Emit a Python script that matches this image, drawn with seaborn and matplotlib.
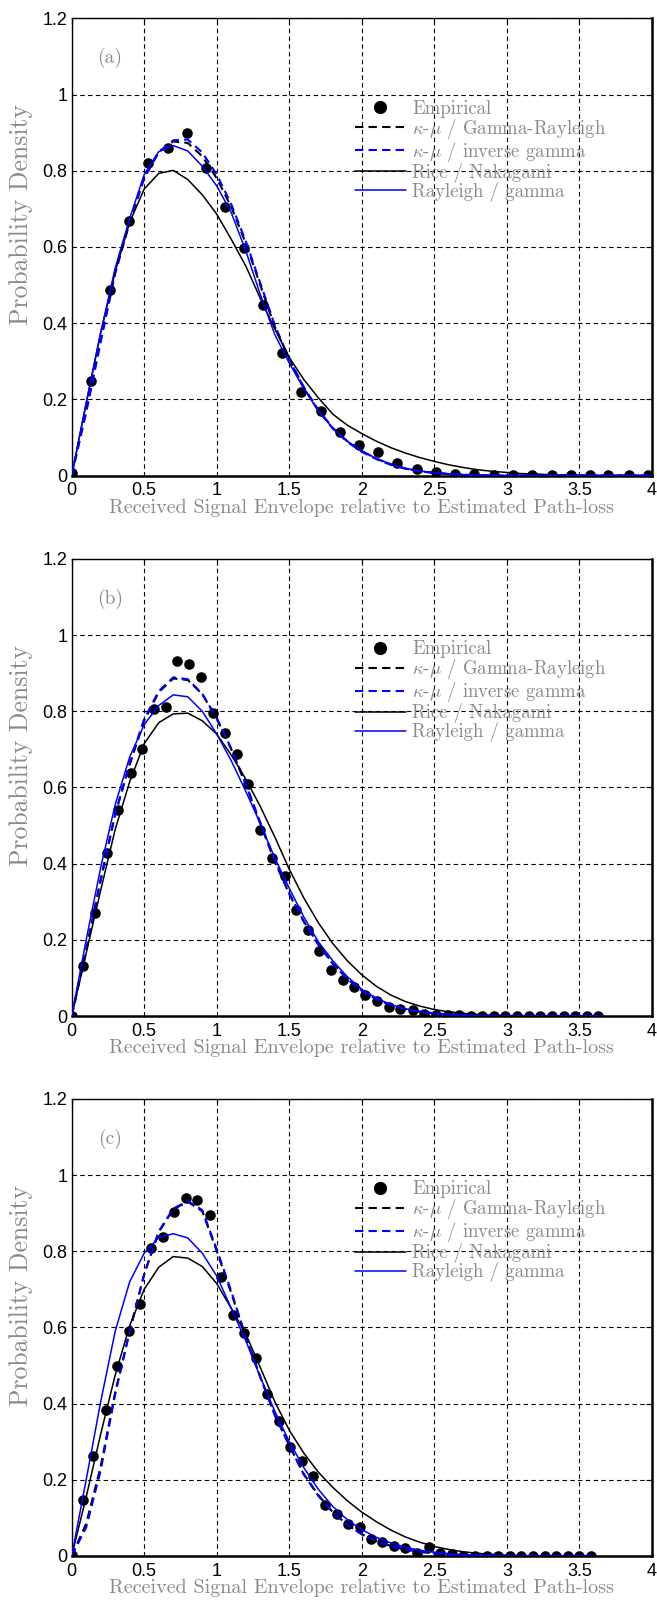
import matplotlib
matplotlib.use("Agg")
import matplotlib.pyplot as plt
import seaborn as sns
from matplotlib.lines import Line2D
from matplotlib.font_manager import FontProperties

# ---------------- data ----------------
panel_labels = ["(a)", "(b)", "(c)"]
legend_labels = ["Empirical", r"$\kappa$-$\mu$ / Gamma-Rayleigh", r"$\kappa$-$\mu$ / inverse gamma",
                 "Rice / Nakagami", "Rayleigh / gamma"]
xticks = [0, 0.5, 1, 1.5, 2, 2.5, 3, 3.5, 4]
xticklabels = ["0", "0.5", "1", "1.5", "2", "2.5", "3", "3.5", "4"]
yticks = [0, 0.2, 0.4, 0.6, 0.8, 1.0, 1.2]
yticklabels = ["0", "0.2", "0.4", "0.6", "0.8", "1", "1.2"]
xlabel = "Received Signal Envelope relative to Estimated Path-loss"
ylabel = "Probability Density"

# empirical points
emp_x_a = [0, 0.131, 0.263, 0.398, 0.525, 0.664, 0.794, 0.923, 1.06, 1.19, 1.32, 1.45, 1.58, 1.72, 1.85,
           1.98, 2.11, 2.245, 2.38, 2.51, 2.64, 2.77, 2.91, 3.04, 3.17, 3.31, 3.44, 3.57, 3.70, 3.84, 3.97]
emp_y_a = [0.007, 0.248, 0.487, 0.667, 0.82, 0.861, 0.90, 0.807, 0.705, 0.597, 0.447, 0.321, 0.218, 0.169, 0.115,
           0.08, 0.062, 0.032, 0.016, 0.009, 0.005, 0.003, 0.002, 0.001, 0.001, 0.001, 0.001, 0.001, 0.001, 0.001, 0.001]

emp_x_b = [0, 0.076, 0.161, 0.244, 0.322, 0.407, 0.485, 0.57, 0.651, 0.729, 0.811, 0.894, 0.977, 1.055, 1.138,
           1.218, 1.299, 1.382, 1.467, 1.545, 1.628, 1.706, 1.789, 1.869, 1.949, 2.025, 2.106, 2.188, 2.266, 2.35,
           2.43, 2.51, 2.594, 2.67, 2.75, 2.83, 2.91, 2.99, 3.07, 3.15, 3.23, 3.31, 3.39, 3.47, 3.55, 3.63]
emp_y_b = [0, 0.131, 0.271, 0.427, 0.54, 0.638, 0.70, 0.805, 0.812, 0.933, 0.925, 0.889, 0.795, 0.743, 0.688,
           0.61, 0.489, 0.415, 0.367, 0.277, 0.227, 0.17, 0.122, 0.094, 0.075, 0.055, 0.04, 0.024, 0.018, 0.015,
           0.005, 0.003, 0.002, 0.003, 0.001, 0.001, 0.001, 0.001, 0.001, 0.001, 0.001, 0.001, 0.001, 0.001, 0.001, 0.001]

emp_x_c = [0, 0.076, 0.149, 0.234, 0.315, 0.393, 0.471, 0.547, 0.628, 0.708, 0.789, 0.867, 0.954, 1.032, 1.11,
           1.189, 1.269, 1.349, 1.428, 1.508, 1.588, 1.666, 1.744, 1.827, 1.907, 1.984, 2.062, 2.142, 2.22, 2.30,
           2.38, 2.46, 2.54, 2.62, 2.70, 2.78, 2.86, 2.94, 3.02, 3.10, 3.18, 3.26, 3.34, 3.42, 3.50, 3.58]
emp_y_c = [0.003, 0.147, 0.262, 0.384, 0.498, 0.59, 0.662, 0.808, 0.837, 0.902, 0.939, 0.935, 0.895, 0.732, 0.633,
           0.586, 0.52, 0.424, 0.354, 0.287, 0.249, 0.211, 0.133, 0.11, 0.084, 0.075, 0.044, 0.036, 0.026, 0.021,
           0.009, 0.024, 0.007, 0.004, 0.001, 0.001, 0, 0, 0, 0, 0, 0, 0, 0, 0, 0]

# fitted curves
curve_x_a = [0, 0.1, 0.2, 0.3, 0.4, 0.5, 0.6, 0.7, 0.8, 0.9, 1.0, 1.1, 1.2, 1.3, 1.4, 1.5, 1.6, 1.7, 1.8, 1.9,
             2.0, 2.1, 2.2, 2.3, 2.4, 2.5, 2.6, 2.7, 2.8, 2.9, 3.0, 3.1, 3.2, 3.3, 3.4, 3.5, 3.6, 3.7, 3.8, 3.9, 4.0]
kg_a = [0, 0.175, 0.36, 0.535, 0.665, 0.785, 0.85, 0.877, 0.873, 0.838, 0.78, 0.705, 0.61, 0.5, 0.39, 0.305,
        0.232, 0.172, 0.125, 0.09, 0.064, 0.044, 0.029, 0.018, 0.011, 0.007, 0.004, 0.002, 0.001, 0,
        0, 0, 0, 0, 0, 0, 0, 0, 0, 0, 0]
ki_a = [0, 0.165, 0.35, 0.53, 0.665, 0.78, 0.848, 0.88, 0.882, 0.848, 0.79, 0.712, 0.615, 0.505, 0.395, 0.305,
        0.23, 0.17, 0.123, 0.088, 0.062, 0.043, 0.028, 0.018, 0.011, 0.007, 0.004, 0.002, 0.001, 0,
        0, 0, 0, 0, 0, 0, 0, 0, 0, 0, 0]
rn_a = [0, 0.19, 0.375, 0.535, 0.665, 0.752, 0.793, 0.801, 0.777, 0.737, 0.686, 0.62, 0.55, 0.465, 0.385, 0.31,
        0.252, 0.204, 0.161, 0.132, 0.11, 0.09, 0.073, 0.059, 0.047, 0.037, 0.028, 0.021, 0.015, 0.011,
        0.008, 0.005, 0.004, 0.002, 0.001, 0.001, 0, 0, 0, 0, 0]
rg_a = [0, 0.19, 0.375, 0.545, 0.675, 0.79, 0.85, 0.866, 0.852, 0.812, 0.76, 0.69, 0.59, 0.475, 0.37, 0.295,
        0.228, 0.17, 0.124, 0.09, 0.065, 0.045, 0.03, 0.019, 0.012, 0.007, 0.004, 0.002, 0.001, 0,
        0, 0, 0, 0, 0, 0, 0, 0, 0, 0, 0]

curve_x_b = [0, 0.1, 0.2, 0.3, 0.4, 0.5, 0.6, 0.7, 0.8, 0.9, 1.0, 1.1, 1.2, 1.3, 1.4, 1.5, 1.6, 1.7, 1.8, 1.9,
             2.0, 2.1, 2.2, 2.3, 2.4, 2.5, 2.6, 2.7, 2.8, 2.9, 3.0, 3.1, 3.2, 3.3, 3.4, 3.5, 3.6, 3.66]
kg_b = [0, 0.175, 0.36, 0.53, 0.66, 0.775, 0.85, 0.886, 0.882, 0.845, 0.78, 0.7, 0.607, 0.505, 0.405, 0.32,
        0.248, 0.188, 0.138, 0.098, 0.067, 0.045, 0.029, 0.018, 0.011, 0.007, 0.004, 0.002, 0.001, 0,
        0, 0, 0, 0, 0, 0, 0, 0]
ki_b = [0, 0.17, 0.355, 0.53, 0.665, 0.78, 0.853, 0.889, 0.884, 0.846, 0.782, 0.702, 0.61, 0.508, 0.41, 0.322,
        0.248, 0.187, 0.137, 0.097, 0.066, 0.044, 0.028, 0.018, 0.011, 0.007, 0.004, 0.002, 0.001, 0,
        0, 0, 0, 0, 0, 0, 0, 0]
rn_b = [0, 0.165, 0.33, 0.49, 0.615, 0.715, 0.77, 0.793, 0.795, 0.775, 0.74, 0.685, 0.622, 0.55, 0.47, 0.385,
        0.31, 0.245, 0.19, 0.145, 0.108, 0.078, 0.055, 0.038, 0.026, 0.017, 0.011, 0.007, 0.004, 0.002,
        0.001, 0.001, 0, 0, 0, 0, 0, 0]
rg_b = [0, 0.2, 0.39, 0.555, 0.68, 0.765, 0.815, 0.843, 0.838, 0.8, 0.74, 0.67, 0.59, 0.505, 0.415, 0.335,
        0.26, 0.195, 0.145, 0.103, 0.07, 0.047, 0.03, 0.019, 0.012, 0.007, 0.004, 0.002, 0.001, 0,
        0, 0, 0, 0, 0, 0, 0, 0]

curve_x_c = [0, 0.1, 0.2, 0.3, 0.4, 0.5, 0.6, 0.7, 0.8, 0.9, 1.0, 1.1, 1.2, 1.3, 1.4, 1.5, 1.6, 1.7, 1.8, 1.9,
             2.0, 2.1, 2.2, 2.3, 2.4, 2.5, 2.6, 2.7, 2.8, 2.9, 3.0, 3.1, 3.2, 3.3, 3.4, 3.5, 3.6]
kg_c = [0, 0.085, 0.235, 0.43, 0.59, 0.74, 0.85, 0.91, 0.93, 0.905, 0.8, 0.69, 0.575, 0.47, 0.37, 0.29,
        0.215, 0.16, 0.115, 0.082, 0.057, 0.039, 0.026, 0.017, 0.011, 0.007, 0.004, 0.002, 0.001, 0,
        0, 0, 0, 0, 0, 0, 0]
ki_c = [0, 0.075, 0.225, 0.425, 0.59, 0.74, 0.852, 0.912, 0.932, 0.908, 0.805, 0.695, 0.575, 0.47, 0.37, 0.29,
        0.214, 0.158, 0.114, 0.081, 0.057, 0.039, 0.026, 0.017, 0.011, 0.007, 0.004, 0.002, 0.001, 0,
        0, 0, 0, 0, 0, 0, 0]
rn_c = [0, 0.155, 0.32, 0.475, 0.605, 0.70, 0.758, 0.786, 0.782, 0.76, 0.715, 0.65, 0.583, 0.495, 0.405, 0.33,
        0.27, 0.22, 0.18, 0.145, 0.115, 0.09, 0.068, 0.05, 0.036, 0.025, 0.017, 0.011, 0.007, 0.004,
        0.002, 0.001, 0, 0, 0, 0, 0]
rg_c = [0, 0.2, 0.405, 0.59, 0.72, 0.795, 0.836, 0.846, 0.835, 0.795, 0.735, 0.65, 0.565, 0.47, 0.38, 0.3,
        0.232, 0.175, 0.13, 0.095, 0.069, 0.049, 0.034, 0.023, 0.015, 0.01, 0.006, 0.003, 0.002, 0.001,
        0, 0, 0, 0, 0, 0, 0]

panels = [
    (emp_x_a, emp_y_a, curve_x_a, kg_a, ki_a, rn_a, rg_a),
    (emp_x_b, emp_y_b, curve_x_b, kg_b, ki_b, rn_b, rg_b),
    (emp_x_c, emp_y_c, curve_x_c, kg_c, ki_c, rn_c, rg_c),
]

# ---------------- style ----------------
sns.set_theme(style="white")
plt.rcParams["font.family"] = ["Liberation Sans", "DejaVu Sans"]
plt.rcParams["mathtext.fontset"] = "cm"

GRAY = "#8a8a8a"
BLUE = "#0000ff"
serif_label = FontProperties(family="cmr10", size=14.5)
serif_ylabel = FontProperties(family="cmr10", size=18.5)
serif_leg = FontProperties(family="cmr10", size=13.5)

fig = plt.figure(figsize=(6.57, 16.04), dpi=100)
L, W, H = 0.1091, 0.8833, 0.285
bottoms = [0.70355, 0.36658, 0.02993]

for i, (ex, ey, cx, kg, ki, rn, rg) in enumerate(panels):
    ax = fig.add_axes([L, bottoms[i], W, H])
    ax.set_axisbelow(True)
    ax.grid(True, color="black", linestyle=(0, (4, 3)), linewidth=0.8)

    sns.scatterplot(x=ex, y=ey, color="black", s=58, linewidth=0, ax=ax, zorder=2, legend=False)
    sns.lineplot(x=cx, y=kg, color="black", linewidth=1.5, ax=ax, zorder=3, legend=False)
    ax.lines[-1].set_dashes([4, 2.5])
    sns.lineplot(x=cx, y=ki, color=BLUE, linewidth=1.5, ax=ax, zorder=3, legend=False)
    ax.lines[-1].set_dashes([4, 2.5])
    sns.lineplot(x=cx, y=rn, color="black", linewidth=1.1, ax=ax, zorder=3, legend=False)
    sns.lineplot(x=cx, y=rg, color=BLUE, linewidth=1.1, ax=ax, zorder=3, legend=False)

    ax.set_xlim(0, 4)
    ax.set_ylim(0, 1.2)
    ax.set_xticks(xticks)
    ax.set_xticklabels(xticklabels)
    ax.set_yticks(yticks)
    ax.set_yticklabels(yticklabels)
    ax.tick_params(axis="both", direction="in", length=4, width=0.8, colors="black",
                   labelsize=13, top=True, right=True, labelcolor="black")
    ax.tick_params(axis="x", pad=5)
    ax.tick_params(axis="y", pad=3)
    for s in ax.spines.values():
        s.set_color("black")
        s.set_linewidth(1.0)
    ax.spines["bottom"].set_linewidth(1.8)
    ax.spines["right"].set_linewidth(1.8)

    ax.set_xlabel(xlabel, fontproperties=serif_label, color=GRAY, va="center")
    ax.xaxis.set_label_coords(0.5, -0.071)
    ax.set_ylabel(ylabel, fontproperties=serif_ylabel, color=GRAY, va="center")
    ax.yaxis.set_label_coords(-0.087, 0.57)

    ax.text(0.264, 1.095, panel_labels[i], fontproperties=FontProperties(family="cmr10", size=14),
            color=GRAY, ha="center", va="center", transform=ax.transData)

    handles = [
        Line2D([], [], marker="o", color="black", linestyle="none", markersize=8.5),
        Line2D([], [], color="black", linewidth=1.5, dashes=[4, 2.5]),
        Line2D([], [], color=BLUE, linewidth=1.5, dashes=[4, 2.5]),
        Line2D([], [], color="black", linewidth=1.1),
        Line2D([], [], color=BLUE, linewidth=1.1),
    ]
    ax.legend(handles, legend_labels, loc="upper left", bbox_to_anchor=(0.488, 0.822),
              frameon=False, prop=serif_leg, handlelength=2.7, handletextpad=0.35,
              labelspacing=-0.05, borderaxespad=0, borderpad=0, labelcolor=GRAY)

fig.savefig("out.png", dpi=100)
